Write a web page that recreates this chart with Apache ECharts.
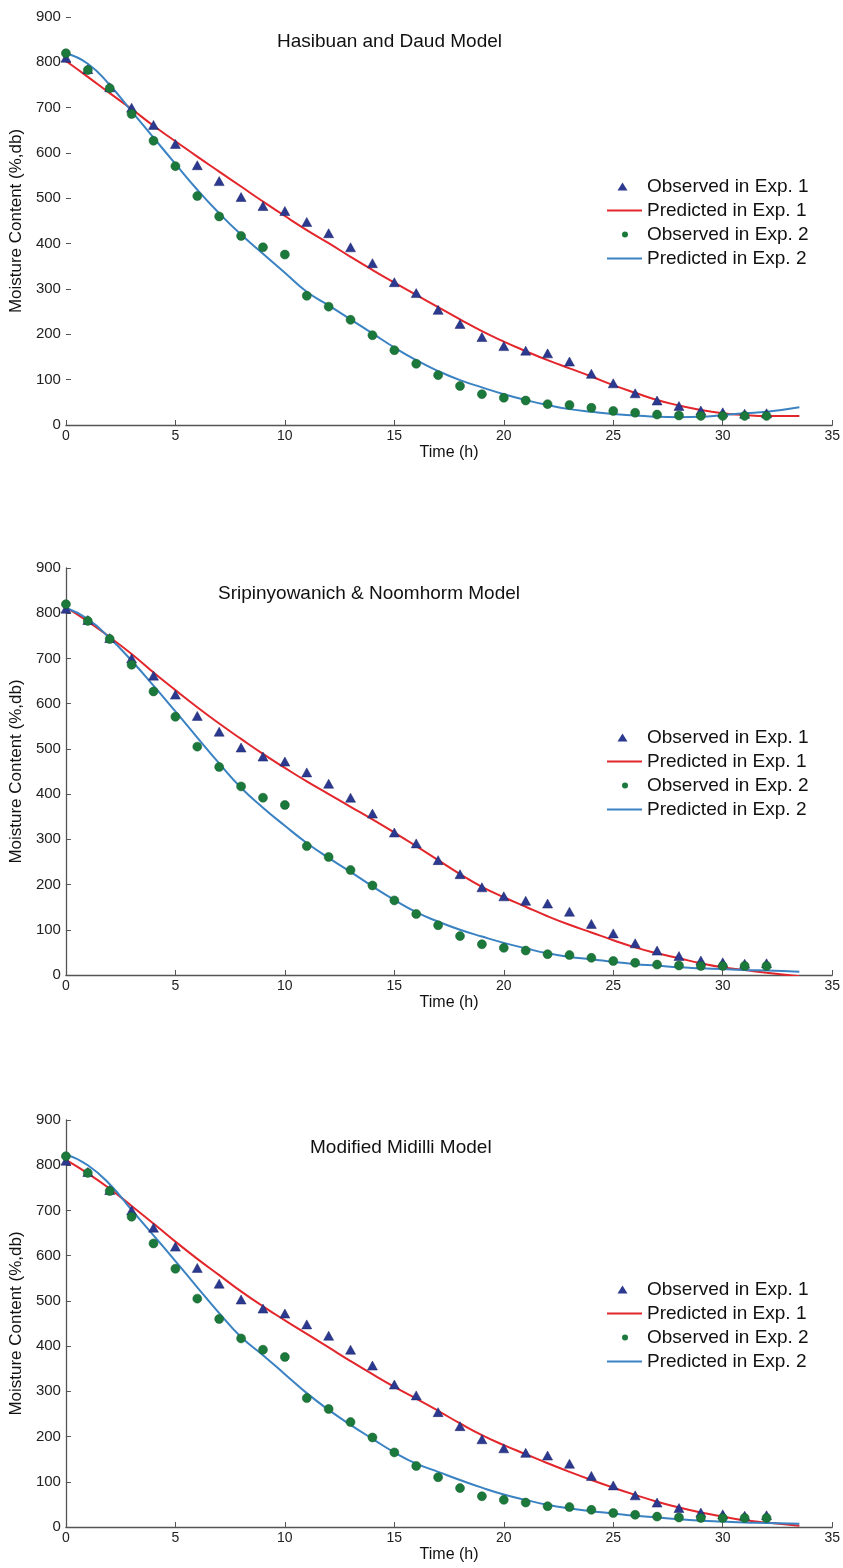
<!DOCTYPE html>
<html>
<head>
<meta charset="utf-8">
<script src="https://cdn.jsdelivr.net/npm/echarts@6/dist/echarts.min.js"></script>
<style>
html,body{margin:0;padding:0;background:#fff;}
#c{width:843px;height:1568px;}
</style>
</head>
<body>
<div id="c"></div>
<script>
// ---- data ----
const modelTitles = ['Hasibuan and Daud Model', 'Sripinyowanich & Noomhorm Model', 'Modified Midilli Model'];
const seriesNames = ['Observed in Exp. 1', 'Predicted in Exp. 1', 'Observed in Exp. 2', 'Predicted in Exp. 2'];
const xTicks = [0, 5, 10, 15, 20, 25, 30, 35];
const yTicks = [0, 100, 200, 300, 400, 500, 600, 700, 800, 900];

const timeObs = [0,1,2,3,4,5,6,7,8,9,10,11,12,13,14,15,16,17,18,19,20,21,22,23,24,25,26,27,28,29,30,31,32];
const obsExp1 = [810,785,745,700,662,620,573,538,503,483,472,448,423,392,357,315,291,254,223,194,174,164,158,140,113,92,70,54,42,32,28,25,26];
const obsExp2 = [820,783,743,686,627,571,505,460,417,392,376,285,261,232,198,165,135,110,86,68,60,54,46,44,38,31,27,23,21,20,20,20,20];

const timePred = [0,1,2,3,4,5,6,7,8,9,10,11,12,13,14,15,16,17,18,19,20,21,22,23,24,25,26,27,28,29,30,31,32,33.5];
// Hasibuan and Daud
const predExp1HD = [803,768,732,697,660,626,592,559,526,493,461,430,401,371,342,314,287,260,233,207,184,163,143,125,107,88,71,55,43,33,26,22,20,20];
const predExp2HD = [820,797,750,692,634,576,519,467,420,378,336,294,264,233,202,171,143,119,99,83,68,55,44,35,29,24,21,18,17,18,22,26,29,39];
// Sripinyowanich & Noomhorm
const predExp1SN = [813,782,747,710,669,630,592,556,522,489,458,428,400,372,344,315,285,254,223,195,172,151,130,111,94,77,61,48,37,26,17,11,5,-3];
const predExp2SN = [812,787,745,695,640,583,525,468,414,370,330,292,259,228,196,166,139,118,100,85,71,59,48,40,35,29,24,21,17,15,13,11,10,7];
// Modified Midilli
const predExp1MM = [812,782,748,710,671,631,593,557,521,488,457,427,397,367,338,310,284,257,229,203,181,161,141,122,104,87,71,56,43,32,23,15,10,3];
const predExp2MM = [824,800,758,701,645,588,530,473,420,380,338,296,259,226,195,165,140,122,104,87,72,60,49,41,35,30,25,21,17,14,12,10,9,7];

const predExp1 = [predExp1HD, predExp1SN, predExp1MM];
const predExp2 = [predExp2HD, predExp2SN, predExp2MM];

// ---- layout / style ----
const FONT = 'Liberation Sans, Arial, Helvetica, sans-serif';
const gridTops = [17, 568, 1120];
const gridHeights = [408, 407, 407];
const titleLeft = [277, 218, 310];
const titleY = [43, 595, 1149];
const C_TRI = '#2b3990', C_CIR = '#1b7a3b', C_RED = '#e3262b', C_BLUE = '#3a82c2';

// legend icons (drawn in a 35 x 9 box)
const ICON_TRI = 'path://M0,0M35,9M15.5,0.5L20.5,8.5L10.5,8.5Z';
const ICON_CIR = 'path://M0,0M35,9M15,4.5a3,3 0 1,0 6,0a3,3 0 1,0 -6,0Z';
const ICON_LINE = 'path://M0,3.6H35V5.4H0Z';

const pairs = (xs, ys) => xs.map((x, i) => [x, ys[i]]);

const grids = [], xAxes = [], yAxes = [], series = [], legends = [], graphics = [];
for (let g = 0; g < 3; g++) {
  grids.push({left: 62, right: 9, top: gridTops[g], height: gridHeights[g]});
  xAxes.push({
    type: 'value', gridIndex: g, min: xTicks[0], max: xTicks[xTicks.length - 1], interval: 5,
    name: 'Time (h)', nameLocation: 'middle', nameGap: 20,
    nameTextStyle: {fontFamily: FONT, fontSize: 16, color: '#111'},
    axisLine: {show: true, lineStyle: {color: '#555', width: 1.3}},
    axisTick: {show: true, inside: true, length: 5, lineStyle: {color: '#555'}},
    axisLabel: {fontFamily: FONT, fontSize: 14, color: '#222', margin: 4},
    splitLine: {show: false}
  });
  yAxes.push({
    type: 'value', gridIndex: g, min: yTicks[0], max: yTicks[yTicks.length - 1], interval: 100,
    name: 'Moisture Content (%,db)', nameLocation: 'middle', nameGap: 36,
    nameTextStyle: {fontFamily: FONT, fontSize: 17, color: '#111'},
    axisLine: {show: g !== 0, lineStyle: {color: '#555', width: 1.3}},
    axisTick: {show: true, inside: true, length: 5, lineStyle: {color: '#555'}},
    axisLabel: {fontFamily: FONT, fontSize: 15, color: '#222', margin: 5},
    splitLine: {show: false}
  });
  series.push({
    name: seriesNames[1], type: 'line', xAxisIndex: g, yAxisIndex: g,
    data: pairs(timePred, predExp1[g]), smooth: true, symbol: 'none',
    lineStyle: {color: C_RED, width: 2}, itemStyle: {color: C_RED}, z: 2
  });
  series.push({
    name: seriesNames[3], type: 'line', xAxisIndex: g, yAxisIndex: g,
    data: pairs(timePred, predExp2[g]), smooth: true, symbol: 'none',
    lineStyle: {color: C_BLUE, width: 2}, itemStyle: {color: C_BLUE}, z: 2
  });
  series.push({
    name: seriesNames[0], type: 'scatter', xAxisIndex: g, yAxisIndex: g,
    data: pairs(timeObs, obsExp1), symbol: 'triangle', symbolSize: [10, 9],
    itemStyle: {color: C_TRI, borderColor: '#1c2566', borderWidth: 0.5, opacity: 1}, z: 3
  });
  series.push({
    name: seriesNames[2], type: 'scatter', xAxisIndex: g, yAxisIndex: g,
    data: pairs(timeObs, obsExp2), symbol: 'circle', symbolSize: 9,
    itemStyle: {color: C_CIR, borderColor: '#145a2b', borderWidth: 0.5, opacity: 1}, z: 4
  });
  legends.push({
    orient: 'vertical', left: 602, top: gridTops[g] + 155,
    itemWidth: 35, itemHeight: 9, itemGap: 5, selectedMode: false, symbolKeepAspect: true,
    textStyle: {fontFamily: FONT, fontSize: 19, color: '#111'},
    data: [
      {name: seriesNames[0], icon: ICON_TRI, itemStyle: {color: C_TRI, borderWidth: 0}},
      {name: seriesNames[1], icon: ICON_LINE, itemStyle: {color: C_RED, borderWidth: 0}},
      {name: seriesNames[2], icon: ICON_CIR, itemStyle: {color: C_CIR, borderWidth: 0}},
      {name: seriesNames[3], icon: ICON_LINE, itemStyle: {color: C_BLUE, borderWidth: 0}}
    ]
  });
  graphics.push({
    type: 'text', left: titleLeft[g], top: titleY[g] - 11,
    style: {text: modelTitles[g], font: '19px ' + FONT, fill: '#111'}
  });
}

const chart = echarts.init(document.getElementById('c'), null, {renderer: 'canvas'});
chart.setOption({
  backgroundColor: '#fff',
  animation: false,
  grid: grids, xAxis: xAxes, yAxis: yAxes, series: series, legend: legends, graphic: graphics
});
</script>
</body>
</html>
